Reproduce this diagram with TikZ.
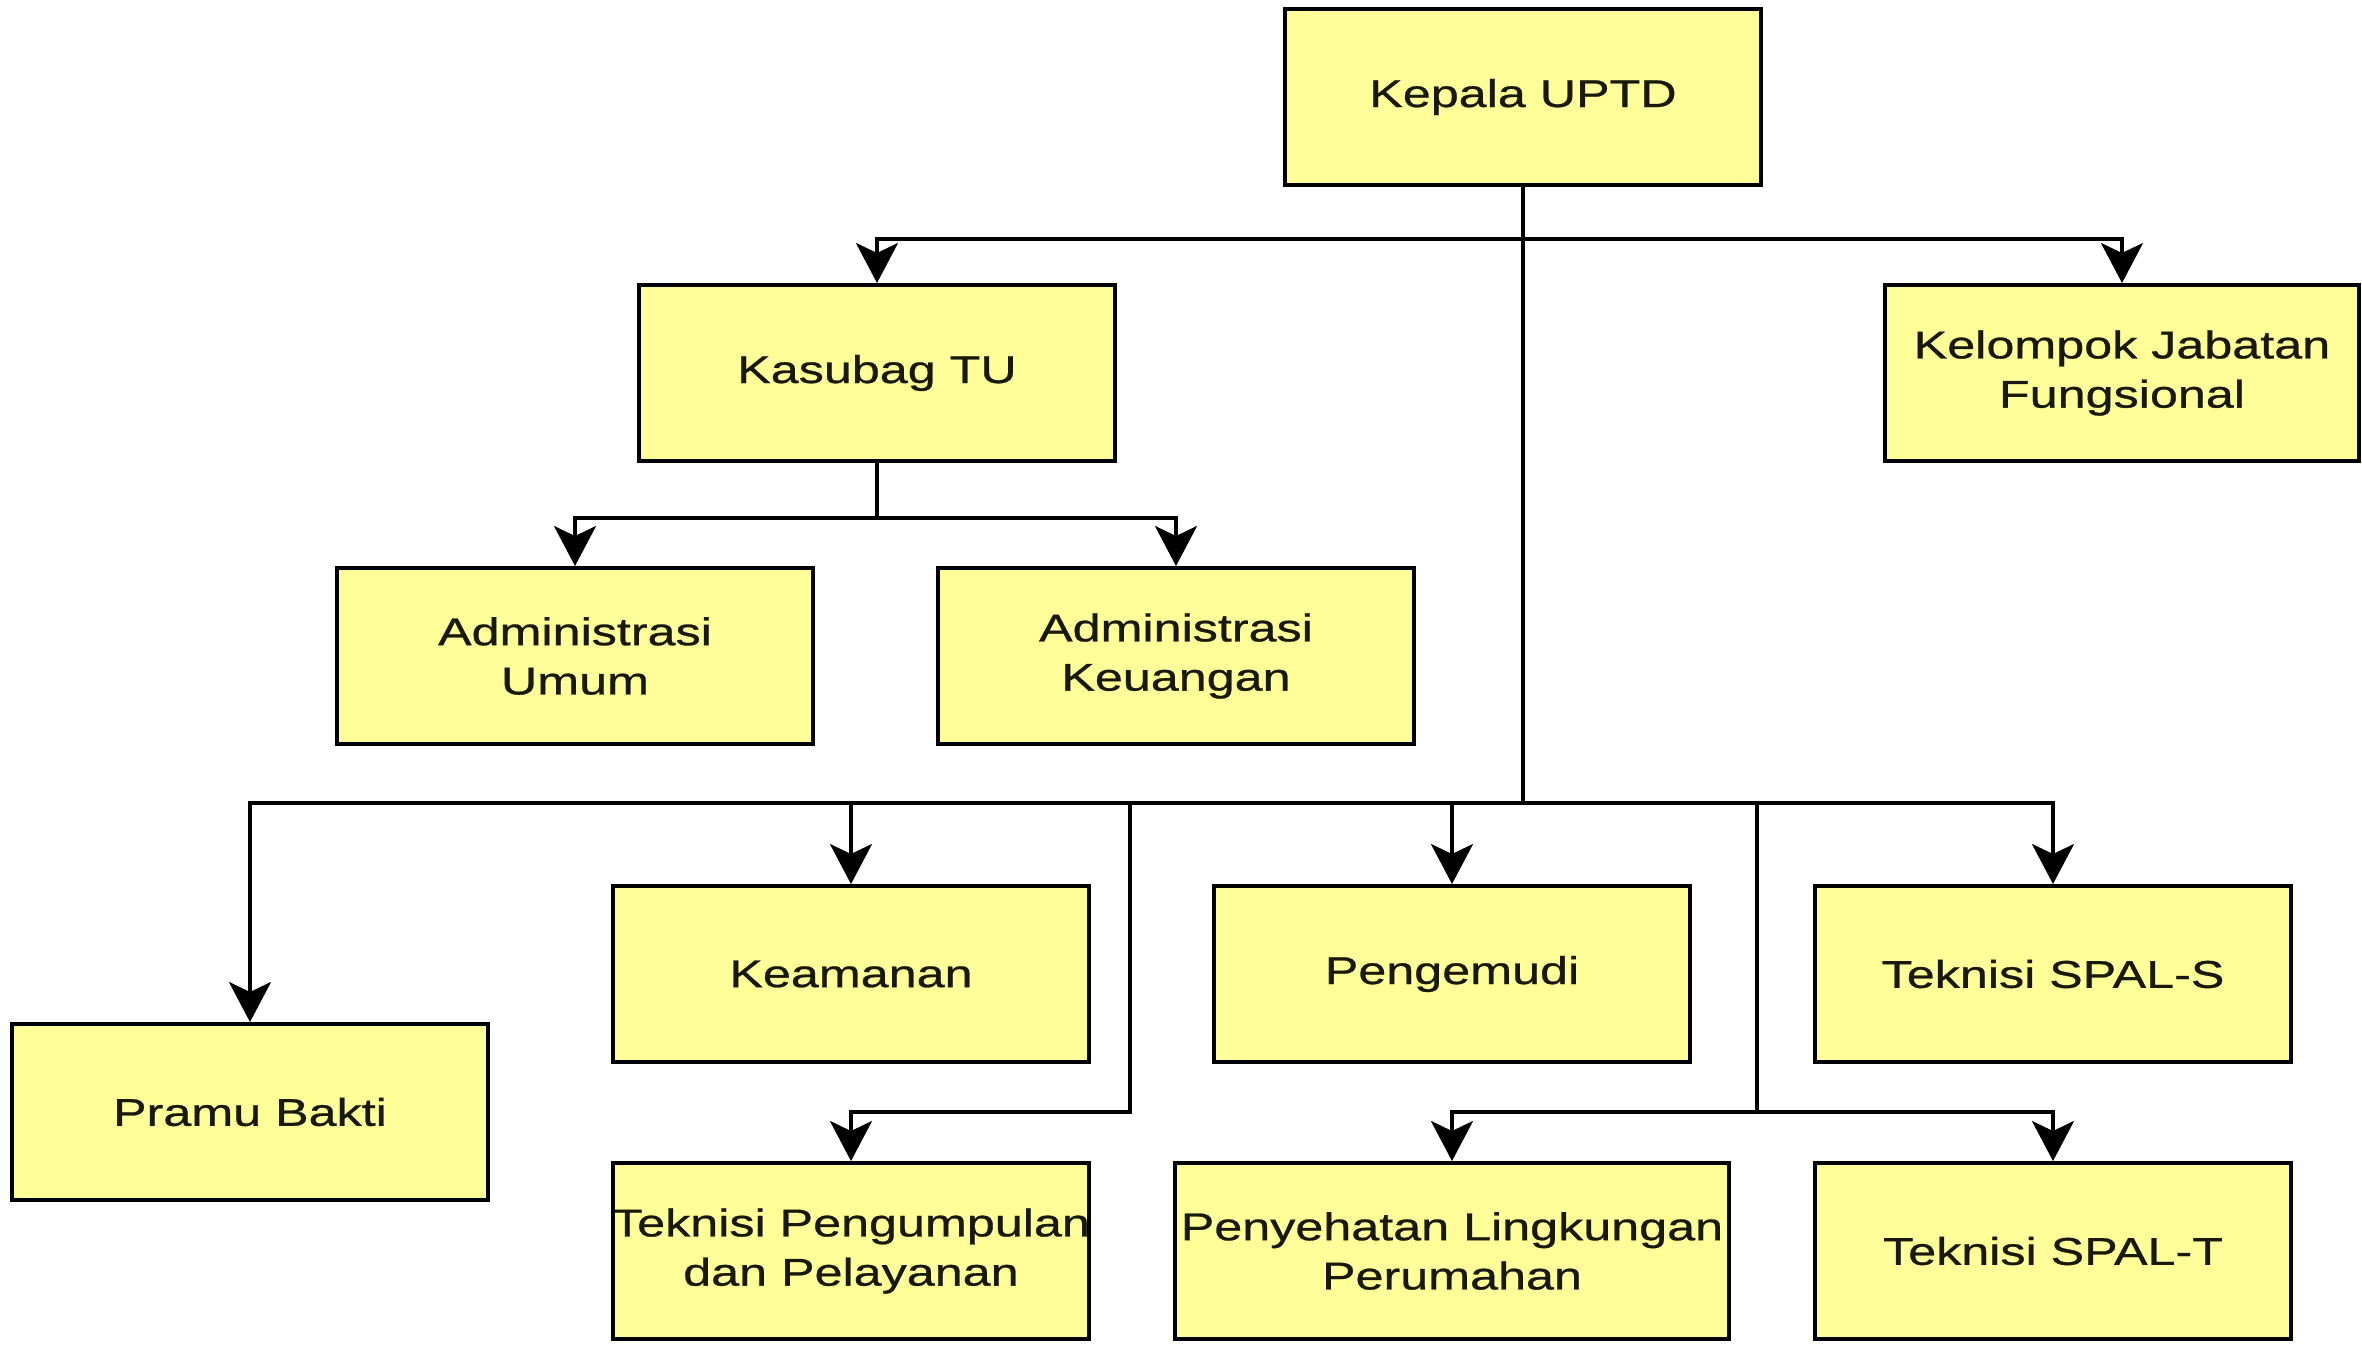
\documentclass[tikz,border=0pt]{standalone}
\usepackage{fontspec}
\setmainfont{Liberation Sans}[FakeStretch=1.3, FakeBold=0.7]
\usetikzlibrary{arrows.meta}
\definecolor{boxfill}{RGB}{255,255,153}
\definecolor{txt}{RGB}{25,25,10}
\tikzset{
  box/.style={draw=black, line width=1.1pt, fill=boxfill, inner sep=0pt,
    minimum width=4.76cm, minimum height=1.76cm},
  boxt/.style={box, path picture={\node[align=center, text=txt,
    font=\fontsize{11}{14}\selectfont] at (path picture bounding box.center) {#1};}},
  conn/.style={draw=black, line width=0.9pt},
  arr/.style={conn, -{Stealth[length=0.4cm, width=0.42cm, inset=0.1cm]}}
}
\begin{document}
\begin{tikzpicture}[x=0.01cm, y=-0.01cm]
\fill[white] (0,0) rectangle (2362,1351);
\useasboundingbox (0,0) rectangle (2362,1351);

\node[boxt={Kepala UPTD}] (kepala) at (1523,97) {};
\node[boxt={Kasubag TU}] (kasubag) at (877,373) {};
\node[boxt={Kelompok Jabatan\\Fungsional}, minimum width=4.73cm] (kelompok) at (2122,373) {};
\node[boxt={Administrasi\\Umum}] (admumum) at (575,656) {};
\node[boxt={Administrasi\\Keuangan}] (admkeu) at (1176,656) {};
\node[boxt={Pramu Bakti}] (pramu) at (250,1112) {};
\node[boxt={Keamanan}] (keamanan) at (851,974) {};
\node[boxt={Pengemudi}] (pengemudi) at (1452,974) {};
\node[boxt={Teknisi SPAL-S}] (spals) at (2053,974) {};
\node[boxt={Teknisi Pengumpulan\\dan Pelayanan}] (teknisi) at (851,1251) {};
\node[boxt={Penyehatan Lingkungan\\Perumahan}, minimum width=5.53cm] (penyehatan) at (1452,1251) {};
\node[boxt={Teknisi SPAL-T}] (spalt) at (2053,1251) {};

\coordinate (top) at (0,239);
\coordinate (mid) at (0,518);
\coordinate (bot) at (0,803);
\coordinate (j1) at (1130,803);
\coordinate (low1) at (1130,1112);
\coordinate (j2) at (1757,803);
\coordinate (low2) at (1757,1112);

% Kepala
\draw[conn] (kepala.south) -- (kepala.south |- bot);
\draw[arr] (kepala.south |- top) -| (kasubag.north);
\draw[arr] (kepala.south |- top) -| (kelompok.north);

% Kasubag
\draw[conn] (kasubag.south) -- (kasubag.south |- mid);
\draw[arr] (kasubag.south |- mid) -| (admumum.north);
\draw[arr] (kasubag.south |- mid) -| (admkeu.north);

% bottom bus
\draw[arr] (kepala.south |- bot) -| (pramu.north);
\draw[arr] (kepala.south |- bot) -| (spals.north);
\draw[arr] (keamanan.north |- bot) -- (keamanan.north);
\draw[arr] (pengemudi.north |- bot) -- (pengemudi.north);

% branches
\draw[arr] (j1) -- (low1) -| (teknisi.north);
\draw[arr] (j2) -- (low2) -| (penyehatan.north);
\draw[arr] (low2) -| (spalt.north);
\end{tikzpicture}
\end{document}
